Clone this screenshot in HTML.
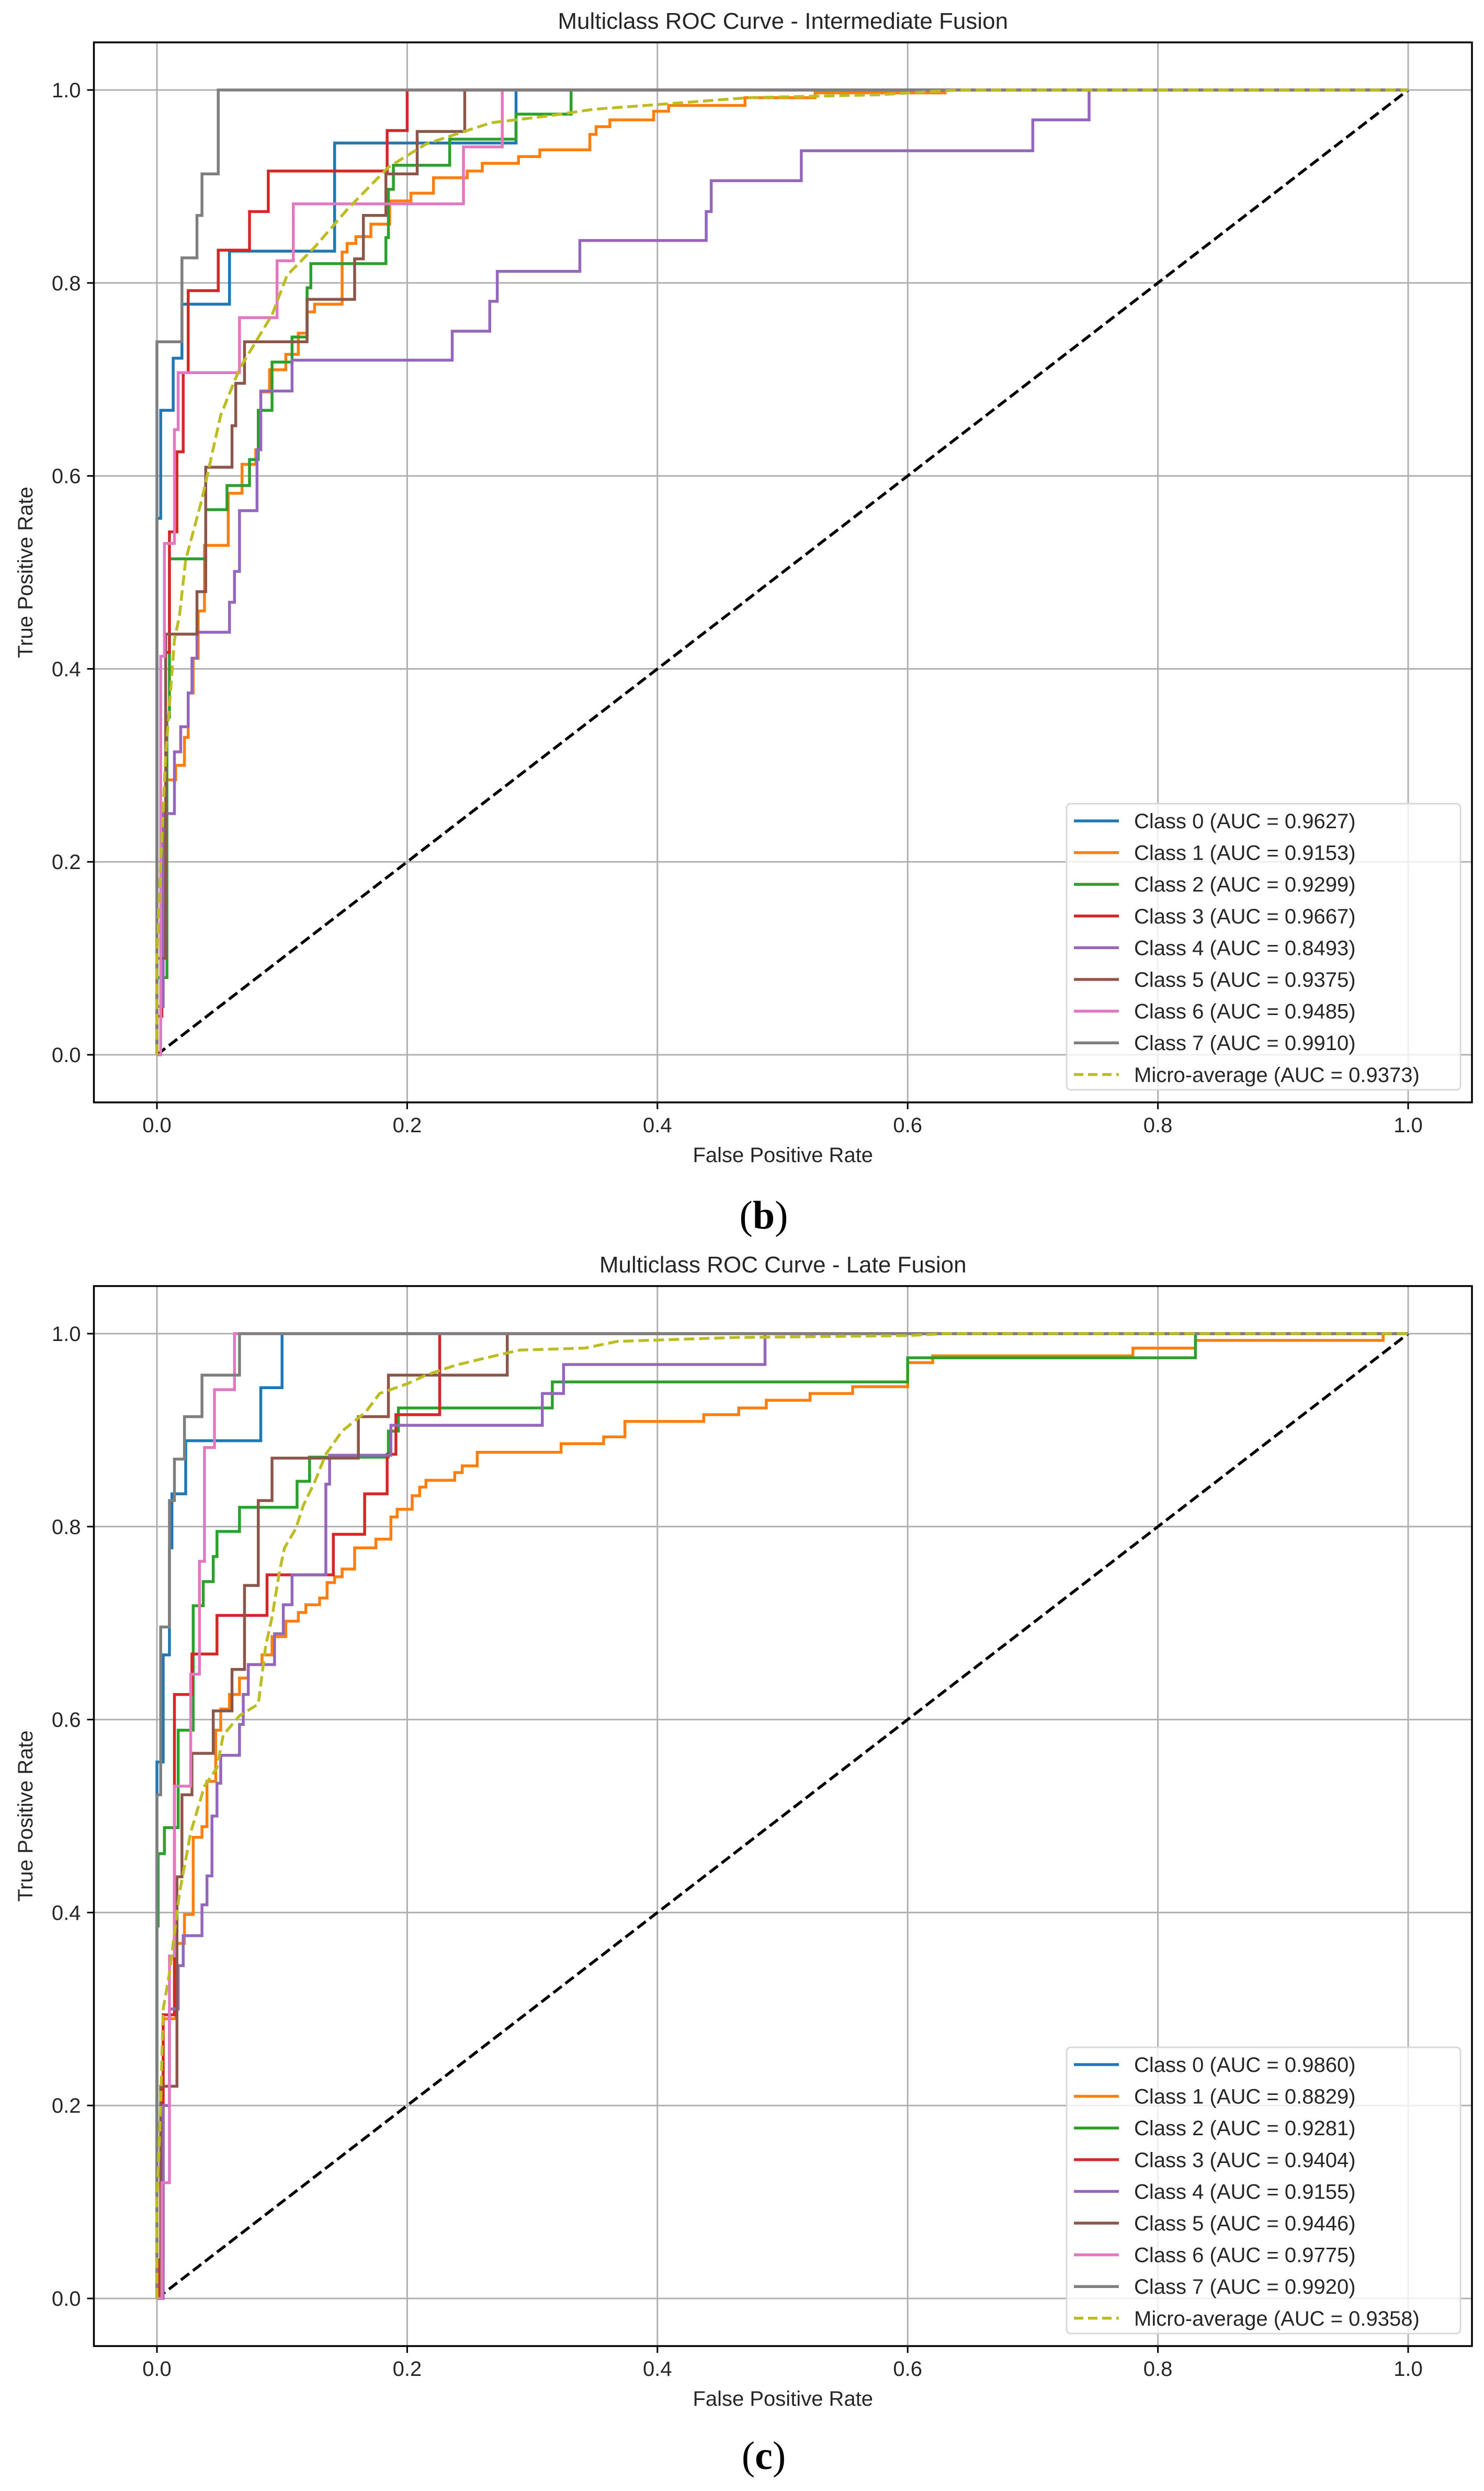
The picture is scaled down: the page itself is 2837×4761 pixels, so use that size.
<!DOCTYPE html>
<html><head><meta charset="utf-8"><style>
html,body{margin:0;padding:0;background:#fff;}
svg{display:block;}
text{font-family:"Liberation Sans","DejaVu Sans",sans-serif;fill:#262626;}
</style></head><body>
<svg id="fig" width="2837" height="4761" viewBox="0 0 2837 4761" xmlns="http://www.w3.org/2000/svg"></svg>
<script>
// ===== Data: Intermediate Fusion (top) =====
const tickValues = [0.0, 0.2, 0.4, 0.6, 0.8, 1.0];
const tickLabels = ["0.0", "0.2", "0.4", "0.6", "0.8", "1.0"];
const classNames = ["Class 0","Class 1","Class 2","Class 3","Class 4","Class 5","Class 6","Class 7","Micro-average"];
const aucTop = ["0.9627","0.9153","0.9299","0.9667","0.8493","0.9375","0.9485","0.9910","0.9373"];
const aucBot = ["0.9860","0.8829","0.9281","0.9404","0.9155","0.9446","0.9775","0.9920","0.9358"];

const t0x=[0,0.003,0.013,0.020,0.058,0.142,0.287];
const t0y=[0.556,0.668,0.722,0.778,0.833,0.945,1];
const t1x=[0,0.004,0.007,0.015,0.022,0.025,0.029,0.033,0.038,0.057,0.068,0.079,0.083,0.09,0.103,0.113,0.12,0.126,0.148,0.152,0.159,0.171,0.186,0.203,0.221,0.248,0.26,0.289,0.306,0.346,0.351,0.362,0.397,0.409,0.47,0.526,0.63];
const t1y=[0.05,0.17,0.285,0.30,0.329,0.375,0.411,0.46,0.528,0.582,0.612,0.627,0.687,0.71,0.726,0.748,0.77,0.778,0.832,0.841,0.848,0.861,0.885,0.893,0.909,0.916,0.924,0.931,0.938,0.954,0.962,0.969,0.978,0.984,0.992,0.997,1];
const t2x=[0,0.008,0.010,0.039,0.056,0.074,0.081,0.092,0.108,0.12,0.123,0.183,0.185,0.189,0.234,0.287,0.331];
const t2y=[0.08,0.35,0.514,0.565,0.59,0.617,0.668,0.718,0.744,0.795,0.82,0.847,0.897,0.922,0.949,0.975,1];
const t3x=[0,0.004,0.007,0.010,0.016,0.021,0.025,0.049,0.074,0.089,0.184,0.2];
const t3y=[0.04,0.17,0.417,0.542,0.625,0.707,0.792,0.834,0.874,0.916,0.958,1];
const t4x=[0,0.005,0.014,0.019,0.025,0.028,0.032,0.058,0.062,0.066,0.08,0.083,0.108,0.236,0.266,0.272,0.338,0.439,0.443,0.515,0.70,0.745];
const t4y=[0.05,0.25,0.314,0.34,0.375,0.411,0.438,0.469,0.501,0.564,0.627,0.688,0.72,0.75,0.781,0.812,0.844,0.874,0.906,0.937,0.969,1];
const t5x=[0,0.007,0.032,0.039,0.06,0.063,0.07,0.12,0.158,0.165,0.183,0.208,0.246];
const t5y=[0.1,0.436,0.48,0.609,0.652,0.696,0.739,0.783,0.825,0.87,0.913,0.957,1];
const t6x=[0.003,0.006,0.014,0.017,0.066,0.096,0.109,0.245,0.276];
const t6y=[0.413,0.53,0.648,0.707,0.764,0.823,0.882,0.941,1];
const t7x=[0,0.020,0.032,0.036,0.049];
const t7y=[0.739,0.826,0.87,0.913,1];
const tMx=[0,0,0.003,0.007,0.014,0.018,0.023,0.036,0.051,0.066,0.092,0.104,0.126,0.152,0.185,0.215,0.267,0.312,0.349,0.401,0.472,0.576,0.64,1];
const tMy=[0,0.1,0.2,0.31,0.43,0.455,0.513,0.576,0.663,0.711,0.767,0.808,0.837,0.876,0.92,0.944,0.966,0.973,0.98,0.985,0.992,0.995,1,1];

// ===== Data: Late Fusion (bottom) =====
const b0x=[0,0.005,0.010,0.012,0.023,0.083,0.1];
const b0y=[0.556,0.667,0.778,0.834,0.889,0.944,1];
const b1x=[0,0.003,0.005,0.015,0.022,0.029,0.036,0.040,0.047,0.051,0.058,0.066,0.073,0.084,0.092,0.103,0.113,0.119,0.130,0.136,0.142,0.148,0.158,0.175,0.187,0.192,0.204,0.210,0.215,0.238,0.244,0.256,0.323,0.357,0.374,0.437,0.465,0.487,0.522,0.556,0.60,0.62,0.78,0.83,0.98];
const b1y=[0.04,0.15,0.29,0.368,0.398,0.478,0.489,0.536,0.589,0.611,0.626,0.643,0.657,0.667,0.686,0.702,0.711,0.719,0.726,0.742,0.748,0.756,0.778,0.787,0.81,0.818,0.832,0.841,0.848,0.856,0.863,0.877,0.886,0.893,0.909,0.916,0.923,0.931,0.938,0.945,0.97,0.977,0.985,0.993,1];
const b2x=[0,0.001,0.006,0.017,0.029,0.037,0.045,0.048,0.066,0.112,0.122,0.185,0.193,0.316,0.6,0.83];
const b2y=[0.386,0.461,0.488,0.589,0.718,0.743,0.769,0.795,0.82,0.847,0.872,0.899,0.923,0.95,0.975,1];
const b3x=[0.002,0.005,0.014,0.028,0.048,0.088,0.141,0.166,0.184,0.191,0.226];
const b3y=[0.04,0.294,0.626,0.668,0.708,0.75,0.792,0.834,0.875,0.916,1];
const b4x=[0.005,0.01,0.017,0.021,0.036,0.04,0.044,0.048,0.051,0.066,0.069,0.073,0.094,0.101,0.108,0.135,0.138,0.187,0.308,0.325,0.486];
const b4y=[0.2,0.3,0.345,0.376,0.408,0.438,0.5,0.534,0.563,0.595,0.626,0.657,0.689,0.719,0.75,0.844,0.874,0.905,0.938,0.968,1];
const b5x=[0.003,0.016,0.02,0.028,0.045,0.06,0.07,0.081,0.092,0.161,0.185,0.28];
const b5y=[0.22,0.437,0.522,0.565,0.609,0.652,0.739,0.827,0.871,0.914,0.957,1];
const b6x=[0.004,0.010,0.014,0.027,0.034,0.038,0.046,0.062];
const b6y=[0.12,0.355,0.531,0.647,0.764,0.882,0.942,1];
const b7x=[0,0.003,0.010,0.014,0.022,0.036,0.066];
const b7y=[0.522,0.696,0.827,0.870,0.914,0.957,1];
const bMx=[0,0,0.003,0.005,0.01,0.018,0.027,0.038,0.048,0.053,0.066,0.081,0.087,0.092,0.098,0.102,0.111,0.117,0.126,0.135,0.148,0.167,0.178,0.2,0.215,0.238,0.26,0.29,0.342,0.368,0.461,0.6,0.63,1];
const bMy=[0,0.1,0.2,0.3,0.337,0.42,0.483,0.531,0.55,0.584,0.604,0.616,0.677,0.706,0.754,0.778,0.798,0.822,0.846,0.875,0.899,0.919,0.938,0.948,0.957,0.967,0.974,0.983,0.985,0.992,0.996,0.998,1,1];

const colors=["#1f77b4","#ff7f0e","#2ca02c","#d62728","#9467bd","#8c564b","#e377c2","#7f7f7f","#bcbd22"];
const NS="http://www.w3.org/2000/svg";
const svg=document.getElementById('fig');

function mk(tag,attrs,parent){const e=document.createElementNS(NS,tag);for(const k in attrs)e.setAttribute(k,attrs[k]);(parent||svg).appendChild(e);return e;}

function drawPlot(offY,title,xs,ys,mx,my,aucs,key){
  const L=179.5,R=2814,T=81+offY,B=2107+offY;
  const X0=300,XU=2392,Y0=2016+offY,YU=1844;
  const sx=v=>X0+v*XU, sy=v=>Y0-v*YU;
  const g=mk('g',{});
  
  
  mk('rect',{x:L,y:T,width:R-L,height:B-T,fill:'#fff'},g);
  tickValues.forEach((v,i)=>{
    const gx=mk('line',{x1:sx(v),x2:sx(v),y1:T,y2:B,stroke:'#b0b0b0','stroke-width':3},g);
    
    
    const gy=mk('line',{x1:L,x2:R,y1:sy(v),y2:sy(v),stroke:'#b0b0b0','stroke-width':3},g);
    
    
    mk('line',{x1:sx(v),x2:sx(v),y1:B,y2:B+13,stroke:'#000','stroke-width':3},g);
    mk('line',{x1:L-13,x2:L,y1:sy(v),y2:sy(v),stroke:'#000','stroke-width':3},g);
    const xt=mk('text',{x:sx(v),y:B+57,'font-size':40,'text-anchor':'middle'},g);xt.textContent=tickLabels[i];
    
    
    const yt=mk('text',{x:L-25,y:sy(v)+14,'font-size':40,'text-anchor':'end'},g);yt.textContent=tickLabels[i];
    
    
  });
  const dg=mk('line',{x1:sx(0),y1:sy(0),x2:sx(1),y2:sy(1),stroke:'#000','stroke-width':5.5,'stroke-dasharray':'20 9'},g);
  
  
  for(let c=0;c<8;c++){
    let d='M'+sx(0)+' '+sy(0);let py=0;
    for(let i=0;i<xs[c].length;i++){d+=' L'+sx(xs[c][i])+' '+sy(py)+' L'+sx(xs[c][i])+' '+sy(ys[c][i]);py=ys[c][i];}
    d+=' L'+sx(1)+' '+sy(py);
    const p=mk('path',{d:d,fill:'none',stroke:colors[c],'stroke-width':5.5,'stroke-linejoin':'miter'},g);
    
    
  }
  let d='';mx.forEach((v,i)=>{d+=(i?' L':'M')+sx(v)+' '+sy(my[i]);});
  const pm=mk('path',{d:d,fill:'none',stroke:colors[8],'stroke-width':5.5,'stroke-dasharray':'20 9'},g);
  
  
  const fr=mk('rect',{x:L,y:T,width:R-L,height:B-T,fill:'none',stroke:'#000','stroke-width':3.5},g);
  
  
  const lg=mk('g',{},g);
  
  
  mk('rect',{x:2039,y:1536+offY,width:753,height:547,rx:8,fill:'#fff','fill-opacity':0.8,stroke:'#d8d8d8','stroke-width':3},lg);
  for(let c=0;c<9;c++){
    const yy=1569+offY+c*60.6;
    const ln=mk('line',{x1:2053,x2:2139,y1:yy,y2:yy,stroke:colors[c],'stroke-width':5.5},lg);
    if(c===8) ln.setAttribute('stroke-dasharray','18 9');
    
    
    const tx=mk('text',{x:2168,y:yy+14,'font-size':40},lg);
    tx.textContent=classNames[c]+' (AUC = '+aucs[c]+')';
    
    
  }
  const tt=mk('text',{x:(L+R)/2,y:55+offY,'font-size':44,'text-anchor':'middle'},g);tt.textContent=title;
  
  
  const xl=mk('text',{x:(L+R)/2,y:2221+offY,'font-size':40,'text-anchor':'middle'},g);xl.textContent='False Positive Rate';
  
  
  const yl=mk('text',{x:0,y:0,'font-size':40,'text-anchor':'middle',transform:'translate(62 '+((T+B)/2)+') rotate(-90)'},g);yl.textContent='True Positive Rate';
  
  
}

drawPlot(0,'Multiclass ROC Curve - Intermediate Fusion',[t0x,t1x,t2x,t3x,t4x,t5x,t6x,t7x],[t0y,t1y,t2y,t3y,t4y,t5y,t6y,t7y],tMx,tMy,aucTop,'intermediate-fusion');
drawPlot(2377,'Multiclass ROC Curve - Late Fusion',[b0x,b1x,b2x,b3x,b4x,b5x,b6x,b7x],[b0y,b1y,b2y,b3y,b4y,b5y,b6y,b7y],bMx,bMy,aucBot,'late-fusion');

function caption(y,txt,name){
  const t=mk('text',{x:1460,y:y,'font-size':76,'text-anchor':'middle',style:'font-family:"Liberation Serif","DejaVu Serif",serif;fill:#000;'});
  t.innerHTML='(<tspan font-weight="bold">'+txt+'</tspan>)';
  
  
}
caption(2348,'b','caption-b');
caption(4719,'c','caption-c');
</script>
</body></html>
